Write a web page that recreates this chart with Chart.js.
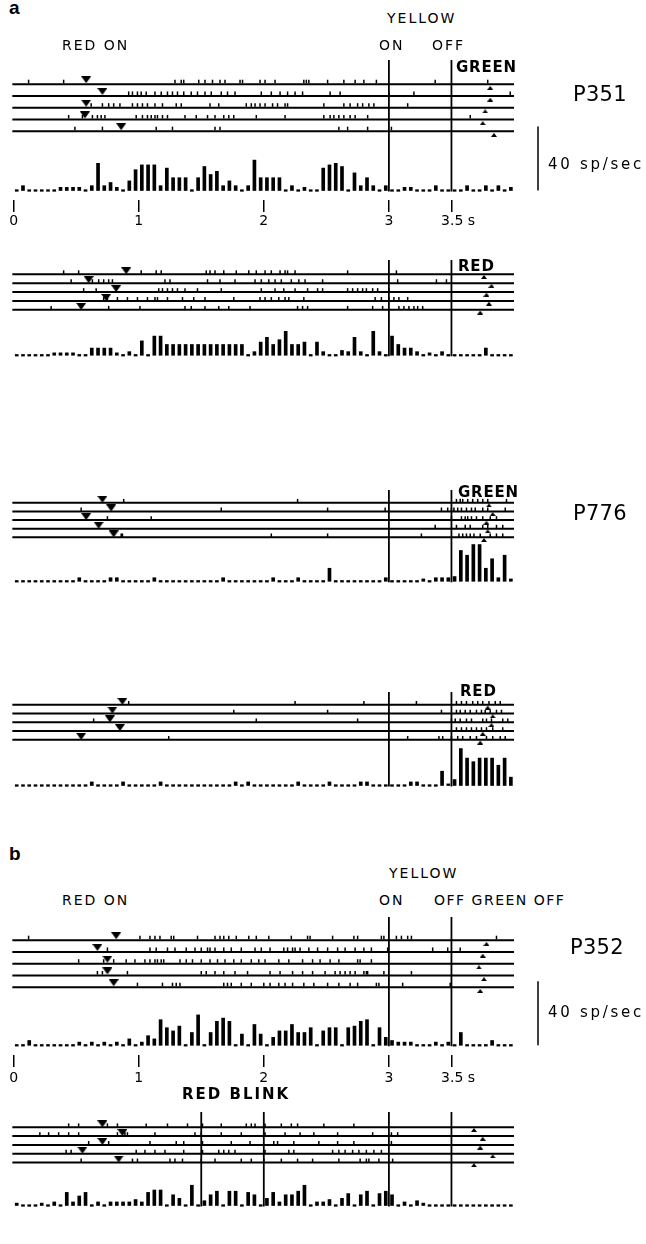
<!DOCTYPE html>
<html><head><meta charset="utf-8">
<script src="https://cdn.jsdelivr.net/npm/chart.js@4.4.1/dist/chart.umd.min.js"></script>
<style>
html,body{margin:0;padding:0;background:#fff;}
#fig{position:relative;width:646px;height:1244px;overflow:hidden;background:#fff;}
#fig canvas{position:absolute;left:0;}
.lbl{position:absolute;white-space:nowrap;color:#000;line-height:1;margin:0;padding:0;z-index:5;}
</style></head><body><div id="fig"></div>
<script>
// ---------------- DATA ----------------
const TIME_TICKS = [0, 1, 2, 3, 3.5];
const TIME_TICK_LABELS = ['0', '1', '2', '3', '3.5 s'];
const BIN_WIDTH = 0.05;          // s per histogram bin
const TRIAL_END = 4.0;           // s, end of each raster line
const SCALE_BAR_RATE = 40;       // sp/sec

const EVENTS_LIGHT = [3, 3.5];            // yellow on, yellow off
const EVENTS_BLINK = [1.5, 2, 3, 3.5];    // red blink on/off, yellow on/off

// P351, GREEN trials
const P351_GREEN_SPIKES = [
  [0.12,0.40,1.29,1.34,1.36,1.48,1.53,1.59,1.65,1.69,1.81,1.83,1.97,2.01,2.09,2.32,2.34,2.36,2.51,2.64,2.73,2.80,2.90,3.37,3.79],
  [0.92,0.95,0.99,1.02,1.06,1.13,1.18,1.23,1.27,1.31,1.36,1.42,1.47,1.53,1.58,1.66,1.71,1.77,1.98,2.06,2.13,2.19,2.25,2.31,2.53,2.61,3.00,3.20,3.97],
  [0.62,0.71,0.76,0.80,0.85,0.95,0.99,1.03,1.07,1.13,1.19,1.30,1.34,1.57,1.64,1.86,1.90,1.93,1.97,2.01,2.07,2.11,2.17,2.19,2.48,2.64,2.69,2.75,2.79,2.84,2.88,3.15],
  [0.44,0.55,0.63,0.67,0.70,0.73,0.98,1.03,1.07,1.10,1.13,1.15,1.19,1.23,1.37,1.46,1.55,1.61,1.68,1.72,1.76,1.94,2.17,2.48,2.53,2.56,2.60,2.64,2.69,2.73,2.83,3.65],
  [0.49,0.71,1.14,1.27,1.61,1.65,2.60,2.67,2.83,3.02]
];
const P351_GREEN_RED_ON = [0.58, 0.71, 0.58, 0.57, 0.86];
const P351_GREEN_RESPONSE = [3.81, 3.81, 3.77, 3.75, 3.84];
const P351_GREEN_RATE = [
  0,3,0,0,0,0,0,2,2,2, 2,0,3,17,3,5,2,0,6,13, 16,16,16,3,14,8,8,8,0,8, 15,10,12,3,6,3,0,3,19,8,
  8,8,8,0,3,0,2,0,0,14, 16,17,15,0,11,3,8,3,0,3, 0,0,2,2,0,0,0,3,0,0, 0,0,3,0,0,3,0,3,0,2
];

// P351, RED trials
const P351_RED_SPIKES = [
  [0.40,0.52,1.02,1.14,1.18,1.54,1.57,1.61,1.68,1.78,1.88,1.94,2.01,2.06,2.13,2.17,2.19,2.25,2.67,3.06],
  [0.46,0.63,0.68,0.72,0.76,0.79,1.21,1.25,1.55,1.65,1.77,1.93,1.98,2.04,2.09,2.14,2.22,2.28,2.33,2.47,3.07,3.38,3.46],
  [0.56,0.66,1.16,1.19,1.23,1.27,1.31,1.37,1.47,1.66,1.98,2.09,2.16,2.25,2.35,2.43,2.47,2.67,2.71,2.75,2.79,2.82,2.87,2.91,3.00],
  [0.72,0.75,0.83,0.91,0.99,1.07,1.13,1.15,1.23,1.35,1.44,1.53,1.76,1.97,2.01,2.06,2.12,2.17,2.20,2.32,2.89,2.94,3.00,3.04,3.08,3.15],
  [0.30,0.76,1.01,1.37,1.42,1.53,1.64,1.72,1.89,2.27,2.31,2.35,2.67,2.87,2.95,3.08,3.12,3.16,3.20,3.23,3.27]
];
const P351_RED_RED_ON = [0.90, 0.60, 0.82, 0.74, 0.54];
const P351_RED_RESPONSE = [3.76, 3.82, 3.78, 3.80, 3.73];
const P351_RED_RATE = [
  0,0,0,0,0,0,2,2,2,2, 0,0,6,6,6,6,2,0,3,0, 12,0,16,16,9,9,9,9,9,9, 9,9,9,9,9,9,9,0,3,11,
  15,9,13,20,9,9,11,0,11,3, 0,0,4,3,15,3,0,20,3,0, 16,9,6,6,3,0,2,0,3,0, 0,0,0,0,0,6,0,0,0,0
];

// P776, GREEN trials
const P776_GREEN_SPIKES = [
  [0.88,2.27,3.54,3.57,3.59,3.63,3.67,3.71,3.75,3.79,3.94],
  [0.54,1.66,2.51,2.97,3.42,3.47,3.50,3.52,3.55,3.58,3.62,3.66,3.69,3.75,3.79,3.93],
  [0.75,1.10,3.50,3.58,3.61,3.63,3.66,3.70,3.75,3.81,3.86],
  [3.37,3.54,3.61,3.65,3.75,3.79,3.86,3.91],
  [0.86,0.87,2.06,2.51,3.26,3.56,3.59,3.62,3.65,3.68,3.73,3.81,3.86,3.91]
];
const P776_GREEN_RED_ON = [0.71, 0.78, 0.58, 0.68, 0.80];
const P776_GREEN_RESPONSE = [3.80, 3.83, 3.78, 3.79, 3.76];
const P776_GREEN_RATE = [
  0,0,0,0,0,0,0,0,0,0, 3,0,0,0,0,3,3,0,0,0, 0,0,3,0,0,0,0,0,0,0, 0,0,0,3,0,0,0,0,0,0,
  0,3,0,0,0,3,0,0,0,0, 11,0,0,0,0,0,0,0,0,3, 0,0,0,0,0,2,0,3,3,3, 4,26,22,31,31,11,19,3,22,2
];

// P776, RED trials
const P776_RED_SPIKES = [
  [0.92,2.25,2.80,3.22,3.54,3.58,3.62,3.67,3.71,3.75,3.80,3.85,3.89],
  [1.76,2.51,3.42,3.54,3.57,3.61,3.65,3.70,3.74,3.77,3.81,3.86,3.90],
  [0.64,1.94,2.75,3.50,3.53,3.57,3.62,3.66,3.75,3.78,3.82,3.91,3.95],
  [3.54,3.58,3.62,3.66,3.70,3.74,3.78,3.83,3.91],
  [1.24,3.15,3.40,3.43,3.50,3.55,3.59,3.65,3.70,3.78,3.83,3.89,3.93]
];
const P776_RED_RED_ON = [0.87, 0.79, 0.77, 0.85, 0.54];
const P776_RED_RESPONSE = [3.79, 3.83, 3.82, 3.75, 3.73];
const P776_RED_RATE = [
  0,0,0,0,0,0,0,0,0,0, 0,0,3,0,0,0,0,3,0,0, 0,0,0,3,0,0,0,0,0,0, 0,0,0,0,0,3,0,3,0,0,
  0,0,0,0,0,3,0,0,0,0, 3,0,0,0,0,3,3,0,0,0, 0,0,0,3,3,0,0,0,12,1, 5,31,23,20,23,23,23,17,23,7
];

// P352, GREEN OFF trials
const P352_GREEN_SPIKES = [
  [0.12,1.01,1.09,1.13,1.17,1.26,1.28,1.47,1.61,1.65,1.68,1.72,1.78,1.88,1.94,2.04,2.22,2.35,2.37,2.55,2.72,2.75,2.94,2.96,3.06,3.10,3.15,3.18,3.86],
  [0.75,1.09,1.14,1.23,1.29,1.38,1.45,1.50,1.55,1.57,1.61,1.68,1.74,1.82,1.93,1.98,2.05,2.16,2.19,2.23,2.25,2.29,2.36,2.43,2.51,2.59,2.65,2.73,2.80,2.86,2.99,3.35,3.47,3.57],
  [0.52,0.72,0.80,0.90,0.97,1.05,1.09,1.13,1.15,1.18,1.20,1.33,1.38,1.43,1.50,1.57,1.63,1.69,1.76,1.82,1.90,1.96,2.01,2.12,2.20,2.31,2.39,2.45,2.53,2.60,2.75,2.77,2.86],
  [0.67,0.71,0.91,1.50,1.54,1.61,1.68,1.77,1.87,2.05,2.13,2.23,2.31,2.39,2.49,2.57,2.61,2.65,2.69,2.73,2.80,2.82,2.83,2.96,3.18],
  [0.99,1.19,1.27,1.30,1.33,1.68,1.71,1.74,1.82,1.90,2.00,2.05,2.12,2.17,2.23,2.32,2.40,2.51,2.60,2.69,2.75,2.90,2.92,3.11,3.49]
];
const P352_GREEN_RED_ON = [0.82, 0.67, 0.75, 0.75, 0.80];
const P352_GREEN_RESPONSE = [3.78, 3.75, 3.72, 3.76, 3.73];
const P352_GREEN_RATE = [
  0,0,3,0,0,0,0,0,0,0, 2,0,2,0,2,0,2,0,4,0, 2,6,4,16,11,9,12,0,8,19, 0,8,15,17,15,0,7,0,13,7,
  0,5,9,9,13,8,8,11,0,9, 11,11,0,11,12,15,16,0,11,5, 3,2,2,2,0,0,0,2,0,2, 0,8,0,0,0,0,3,0,0,0
];

// P352, RED BLINK trials
const P352_BLINK_SPIKES = [
  [0.44,0.52,0.75,0.83,1.06,1.23,1.39,1.51,1.66,1.86,1.90,1.93,2.01,2.14,2.22,2.27,2.48,2.72],
  [0.21,0.28,0.36,0.44,0.52,0.83,0.89,0.91,1.13,1.45,1.50,1.66,1.82,2.01,2.17,2.29,2.40,2.59,2.87,3.02,3.07],
  [0.60,0.76,1.09,1.30,1.36,1.51,1.74,1.89,2.08,2.11,2.24,2.44,2.59,2.72,3.02],
  [0.42,0.46,0.98,1.05,1.13,1.21,1.36,1.51,1.64,1.68,1.72,1.77,2.01,2.20,2.24,2.55,2.60,2.65,2.71,2.76,2.82,2.88,2.94],
  [0.54,0.95,0.99,1.25,1.29,1.35,1.50,1.61,1.82,1.90,2.00,2.14,2.27,2.39,2.60,2.77,2.82,2.84,2.92,3.03]
];
const P352_BLINK_RED_ON = [0.71, 0.87, 0.71, 0.55, 0.84];
const P352_BLINK_RESPONSE = [3.68, 3.75, 3.73, 3.83, 3.68];
const P352_BLINK_RATE = [
  2,0,0,0,2,0,3,0,11,3, 8,11,0,3,0,3,3,3,3,5, 3,11,13,13,0,9,6,0,17,0, 4,9,12,0,12,12,0,11,9,0,
  6,11,3,9,9,12,17,0,3,3, 5,0,6,10,0,9,12,0,10,12, 9,0,3,0,4,2,0,0,0,0, 0,0,0,0,0,0,0,0,0,0
];

// ---------------- LAYOUT / STYLE ----------------
const FIG_W = 646;
const X0 = 13.6;          // page px of t = 0
const PX_PER_S = 125.1;   // page px per second
const PX_PER_RATE = 1.6;  // page px per sp/sec
const AXIS_H = 36;
const SCALE_BAR_X = 538;

function triangleImage(w, h, down) {
  const c = document.createElement('canvas');
  c.width = w; c.height = h;
  const g = c.getContext('2d');
  g.fillStyle = '#000';
  g.beginPath();
  if (down) { g.moveTo(0, 0); g.lineTo(w, 0); g.lineTo(w / 2, h); }
  else { g.moveTo(w / 2, 0); g.lineTo(w, h); g.lineTo(0, h); }
  g.closePath(); g.fill();
  return c;
}
const TRI_DOWN = triangleImage(10, 7, true);
const TRI_UP = triangleImage(6, 4, false);

const PANELS = [
  { spikes: P351_GREEN_SPIKES, redOn: P351_GREEN_RED_ON, resp: P351_GREEN_RESPONSE, rate: P351_GREEN_RATE, events: EVENTS_LIGHT,
    row1: 84.3, gap: 11.75, base: 190.5, evTop: 60, axis: true, scaleBar: true, tickPad: 1 },
  { spikes: P351_RED_SPIKES, redOn: P351_RED_RED_ON, resp: P351_RED_RESPONSE, rate: P351_RED_RATE, events: EVENTS_LIGHT,
    row1: 281.7, gap: 11.9, base: 390, evTop: 260 },
  { spikes: P776_GREEN_SPIKES, redOn: P776_GREEN_RED_ON, resp: P776_GREEN_RESPONSE, rate: P776_GREEN_RATE, events: EVENTS_LIGHT,
    row1: 510, gap: 11.67, base: 616, evTop: 490 },
  { spikes: P776_RED_SPIKES, redOn: P776_RED_RED_ON, resp: P776_RED_RESPONSE, rate: P776_RED_RATE, events: EVENTS_LIGHT,
    row1: 711.7, gap: 11.75, base: 820, evTop: 691.7 },
  { spikes: P352_GREEN_SPIKES, redOn: P352_GREEN_RED_ON, resp: P352_GREEN_RESPONSE, rate: P352_GREEN_RATE, events: EVENTS_LIGHT,
    row1: 940, gap: 11.75, base: 1045, evTop: 916.7, axis: true, scaleBar: true, tickPad: 3 },
  { spikes: P352_BLINK_SPIKES, redOn: P352_BLINK_RED_ON, resp: P352_BLINK_RESPONSE, rate: P352_BLINK_RATE, events: EVENTS_BLINK,
    row1: 1135, gap: 11.8, base: 1240, evTop: 1111.7 }
];

const eventPlugin = {
  id: 'eventLines',
  afterDatasetsDraw(chart, args, opts) {
    const { ctx, scales } = chart;
    const x = scales.x, yH = scales.yH;
    ctx.save();
    ctx.strokeStyle = '#000';
    ctx.lineWidth = 1.8;
    const basePx = yH.getPixelForValue(0);
    opts.times.forEach(t => {
      const px = x.getPixelForValue(t);
      ctx.beginPath(); ctx.moveTo(px, opts.topPx); ctx.lineTo(px, basePx + 1); ctx.stroke();
    });
    if (opts.scaleBar) {
      const px = x.getPixelForValue((SCALE_BAR_X - X0) / PX_PER_S);
      ctx.lineWidth = 1.5;
      ctx.beginPath(); ctx.moveTo(px, basePx); ctx.lineTo(px, yH.getPixelForValue(SCALE_BAR_RATE)); ctx.stroke();
    }
    ctx.restore();
  }
};

const fig = document.getElementById('fig');

PANELS.forEach(p => {
  const areaTop = p.evTop - 8;
  const areaBottom = p.axis ? p.base + 9.5 : p.base + 5;
  const areaH = areaBottom - areaTop;
  const canvasH = Math.round(areaH + (p.axis ? AXIS_H : 0));
  const cv = document.createElement('canvas');
  cv.width = FIG_W; cv.height = canvasH;
  cv.style.top = areaTop + 'px';
  cv.style.width = FIG_W + 'px'; cv.style.height = canvasH + 'px';
  fig.appendChild(cv);
  const effH = canvasH - (p.axis ? AXIS_H : 0);

  const nRows = p.spikes.length;
  const spikeOff = 2.8 / p.gap;
  const downOff = 4.6 / p.gap;
  const upOff = 3.6 / p.gap;

  const datasets = [];
  datasets.push({
    type: 'bar', yAxisID: 'yH', xAxisID: 'x',
    data: p.rate.map((v, i) => ({ x: BIN_WIDTH * (i + 0.5), y: v })),
    backgroundColor: '#000', borderWidth: 0, barThickness: 3, minBarLength: 1.6, grouped: false
  });
  for (let r = 0; r < nRows; r++) {
    datasets.push({
      type: 'line', yAxisID: 'yR', xAxisID: 'x',
      data: [{ x: -0.01, y: r + 1 }, { x: TRIAL_END, y: r + 1 }],
      borderColor: '#000', borderWidth: 2, pointRadius: 0, fill: false
    });
  }
  const spikePts = [];
  p.spikes.forEach((arr, r) => arr.forEach(t => spikePts.push({ x: t, y: r + 1 - spikeOff })));
  datasets.push({
    type: 'scatter', yAxisID: 'yR', xAxisID: 'x', data: spikePts,
    pointStyle: 'line', pointRotation: 90, pointRadius: 1.8, pointBorderWidth: 1.5,
    pointBorderColor: '#000', pointBackgroundColor: '#000', showLine: false
  });
  datasets.push({
    type: 'scatter', yAxisID: 'yR', xAxisID: 'x',
    data: p.redOn.map((t, r) => ({ x: t, y: r + 1 - downOff })),
    pointStyle: TRI_DOWN, pointRadius: 5, showLine: false
  });
  datasets.push({
    type: 'scatter', yAxisID: 'yR', xAxisID: 'x',
    data: p.resp.map((t, r) => ({ x: t, y: r + 1 + upOff })),
    pointStyle: TRI_UP, pointRadius: 3, showLine: false
  });

  const yRmin = 1 - (p.row1 - areaTop) / p.gap;
  const yRmax = 1 + (areaTop + effH - p.row1) / p.gap;
  const yHmin = -(areaTop + effH - p.base) / PX_PER_RATE;
  const yHmax = (p.base - areaTop) / PX_PER_RATE;

  new Chart(cv, {
    type: 'scatter',
    data: { datasets },
    options: {
      responsive: false, animation: false, devicePixelRatio: 1, events: [],
      layout: { padding: 0, autoPadding: false },
      plugins: {
        legend: { display: false }, tooltip: { enabled: false },
        eventLines: { times: p.events, topPx: p.evTop - areaTop, scaleBar: !!p.scaleBar }
      },
      scales: {
        x: {
          type: 'linear', offset: false,
          min: -X0 / PX_PER_S, max: (FIG_W - X0) / PX_PER_S,
          display: !!p.axis,
          border: { display: false },
          grid: { display: true, offset: false, drawOnChartArea: false, drawTicks: true, tickLength: 12, color: '#000', lineWidth: 1.5 },
          ticks: {
            autoSkip: false, maxRotation: 0, padding: p.tickPad || 2, color: '#000',
            font: { family: "'DejaVu Sans', sans-serif", size: 14 },
            callback: (v) => {
              const i = TIME_TICKS.indexOf(v);
              if (i < 0) return '';
              const lab = TIME_TICK_LABELS[i];
              return lab.indexOf(' ') >= 0 ? '   ' + lab : lab;
            }
          },
          afterBuildTicks: (s) => { s.ticks = TIME_TICKS.map(v => ({ value: v })); },
          afterFit: (s) => { s.height = AXIS_H; }
        },
        yR: { type: 'linear', display: false, reverse: true, min: yRmin, max: yRmax },
        yH: { type: 'linear', display: false, min: yHmin, max: yHmax }
      }
    },
    plugins: [eventPlugin]
  });
});

// ---------------- TEXT ----------------
const SANS = "'DejaVu Sans', 'Liberation Sans', sans-serif";
const LABELS = [
  { text: 'a', left: 9, base: 14, size: 19, weight: 'bold', family: "'Liberation Sans', sans-serif" },
  { text: 'YELLOW', left: 387, base: 23, size: 14, ls: 2 },
  { text: 'RED ON', left: 62, base: 50, size: 14, ls: 2 },
  { text: 'ON', left: 379, base: 50, size: 14, ls: 2 },
  { text: 'OFF', left: 432, base: 50, size: 14, ls: 2 },
  { text: 'GREEN', left: 456, base: 73, size: 15, weight: 'bold', ls: 0.8 },
  { text: 'P351', left: 573, base: 102, size: 21, ls: 0.3 },
  { text: '40 sp/sec', left: 548, base: 170, size: 15, ls: 2.7 },
  { text: 'RED', left: 458, base: 272, size: 15, weight: 'bold', ls: 0.8 },
  { text: 'GREEN', left: 458, base: 498, size: 15, weight: 'bold', ls: 0.8 },
  { text: 'P776', left: 573, base: 521, size: 21, ls: 0.3 },
  { text: 'RED', left: 460, base: 697, size: 15, weight: 'bold', ls: 0.8 },
  { text: 'b', left: 9, base: 860, size: 19, weight: 'bold', family: "'Liberation Sans', sans-serif" },
  { text: 'YELLOW', left: 389, base: 878, size: 14, ls: 2 },
  { text: 'RED ON', left: 62, base: 905, size: 14, ls: 2 },
  { text: 'ON', left: 379, base: 905, size: 14, ls: 2 },
  { text: 'OFF GREEN OFF', left: 434, base: 905, size: 14, ls: 1.5 },
  { text: 'P352', left: 570, base: 955, size: 21, ls: 0.3 },
  { text: '40 sp/sec', left: 548, base: 1018, size: 15, ls: 2.7 },
  { text: 'RED BLINK', left: 182, base: 1100, size: 15, weight: 'bold', ls: 2 }
];
LABELS.forEach(l => {
  const d = document.createElement('div');
  d.className = 'lbl';
  d.textContent = l.text;
  d.style.left = l.left + 'px';
  d.style.top = (l.base - 0.846 * l.size) + 'px';
  d.style.fontFamily = l.family || SANS;
  d.style.fontSize = l.size + 'px';
  d.style.fontWeight = l.weight || 'normal';
  d.style.letterSpacing = (l.ls || 0) + 'px';
  fig.appendChild(d);
});
</script></body></html>
